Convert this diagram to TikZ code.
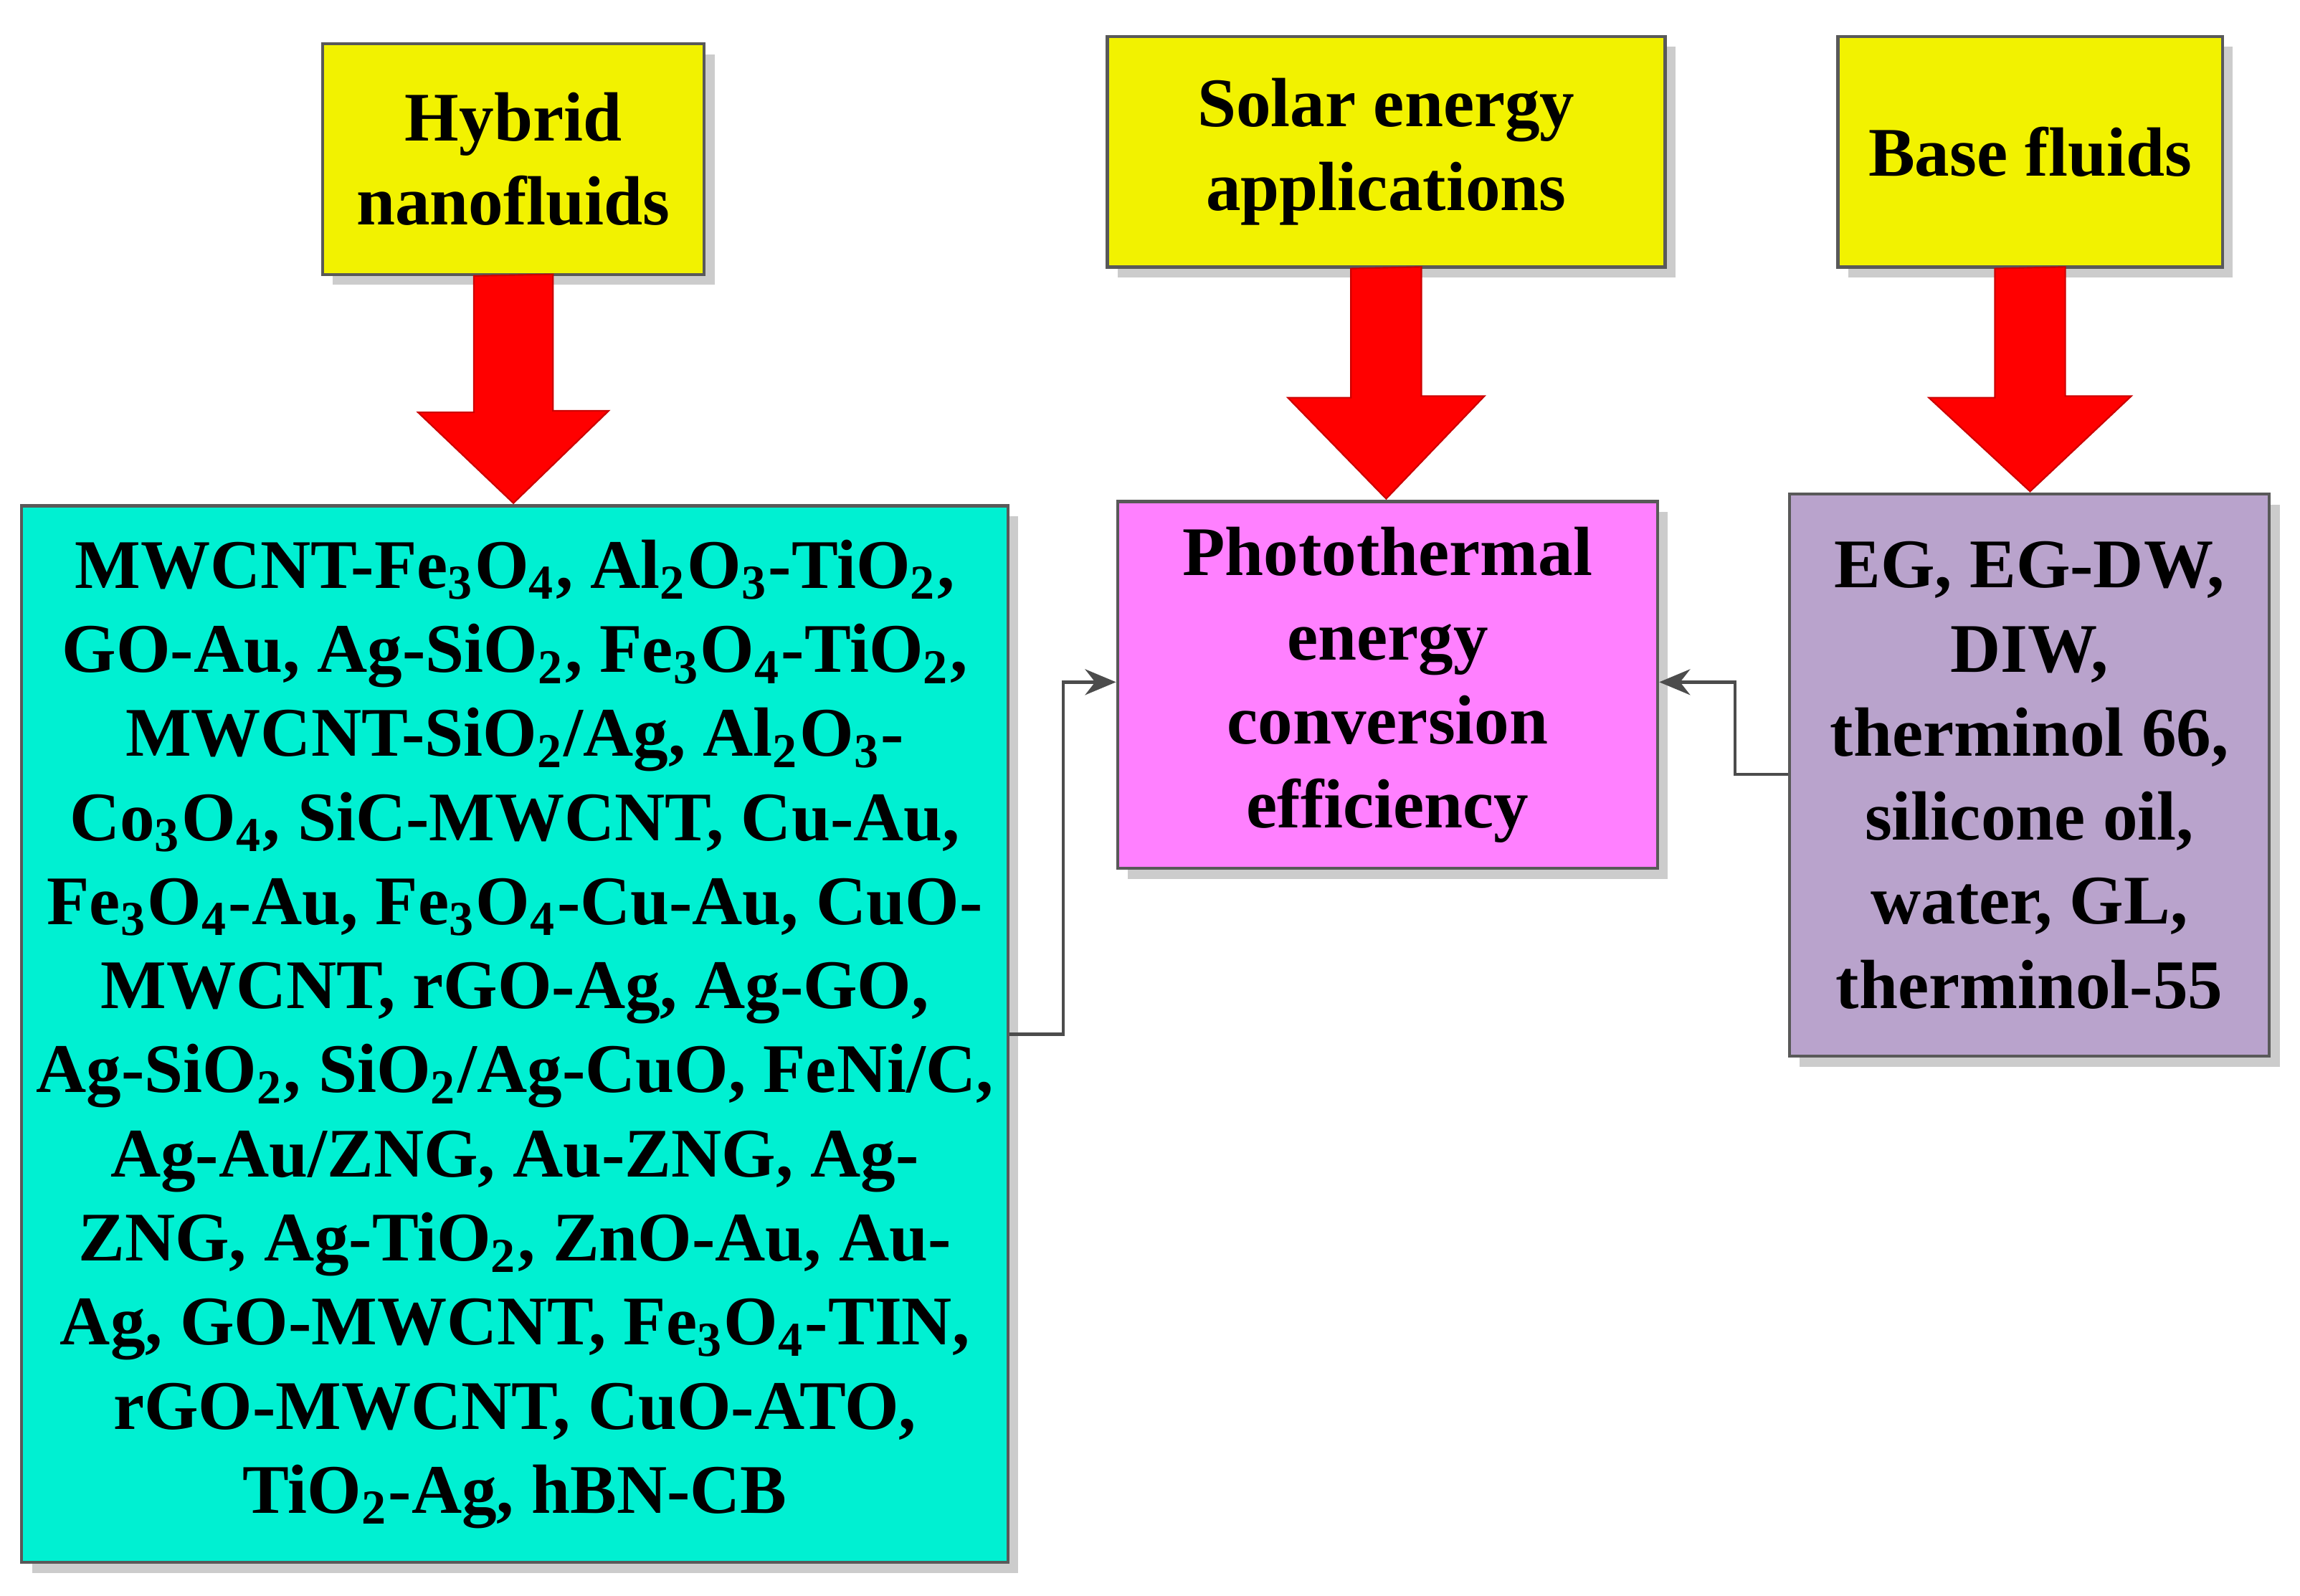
\documentclass[tikz,border=0pt]{standalone}
\usepackage{fontspec}
\setmainfont{Liberation Serif}
\usetikzlibrary{shadows,arrows.meta}
\definecolor{yel}{HTML}{F2F200}
\definecolor{teal2}{HTML}{00F0D2}
\definecolor{pnk}{HTML}{FF80FF}
\definecolor{purp}{HTML}{B9A3CC}
\tikzset{
 box/.style={draw=gray!70!black,line width=0.6pt,drop shadow={shadow xshift=2pt,shadow yshift=-2pt,opacity=0.4},inner sep=0pt,align=center,font=\fontsize{13.5}{16.3}\selectfont\bfseries},
 conn/.style={draw=gray!60!black,line width=0.6pt,-{Stealth[length=6pt,width=5pt]}},
 redarrow/.style={fill=red,draw=red!80!black,line width=0.3pt}
}
\newcommand{\sub}[1]{\textsubscript{#1}}
\begin{document}
\begin{tikzpicture}[x=0.01cm,y=-0.01cm]
\useasboundingbox (0,0) rectangle (1568,1088);
\node[box,fill=yel,minimum width=260\pgflinewidth*0+2.6cm,minimum height=1.57cm] (hy) at (350,108.5) {Hybrid\\nanofluids};
\node[box,fill=yel,minimum width=3.8cm,minimum height=1.57cm] (so) at (945,103.5) {Solar energy\\applications};
\node[box,fill=yel,minimum width=2.62cm,minimum height=1.57cm] (ba) at (1384,103.5) {Base fluids};
\node[box,fill=teal2,minimum width=6.72cm,minimum height=7.2cm] (hl) at (351,705) {MWCNT-Fe\sub{3}O\sub{4}, Al\sub{2}O\sub{3}-TiO\sub{2},\\GO-Au, Ag-SiO\sub{2}, Fe\sub{3}O\sub{4}-TiO\sub{2},\\MWCNT-SiO\sub{2}/Ag, Al\sub{2}O\sub{3}-\\Co\sub{3}O\sub{4}, SiC-MWCNT, Cu-Au,\\Fe\sub{3}O\sub{4}-Au, Fe\sub{3}O\sub{4}-Cu-Au, CuO-\\MWCNT, rGO-Ag, Ag-GO,\\Ag-SiO\sub{2}, SiO\sub{2}/Ag-CuO, FeNi/C,\\Ag-Au/ZNG, Au-ZNG, Ag-\\ZNG, Ag-TiO\sub{2}, ZnO-Au, Au-\\Ag, GO-MWCNT, Fe\sub{3}O\sub{4}-TIN,\\rGO-MWCNT, CuO-ATO,\\TiO\sub{2}-Ag, hBN-CB};
\node[box,fill=pnk,minimum width=3.68cm,minimum height=2.5cm] (ph) at (946,467) {Photothermal\\energy\\conversion\\efficiency};
\node[box,fill=purp,minimum width=3.27cm,minimum height=3.83cm] (bl) at (1383.5,528.5) {EG, EG-DW,\\DIW,\\therminol 66,\\silicone oil,\\water, GL,\\therminol-55};
% red arrows
\draw[redarrow] (hy.south)++(-27,0) -- ++(0,93) -- ++(-38,0) -- (350,343) -- (415,280) -- ++(-38,0) -- ++(0,-93) -- cycle;
\draw[redarrow] (so.south)++(-24,0) -- ++(0,88) -- ++(-43,0) -- (945,340) -- (1012,270) -- ++(-43,0) -- ++(0,-88) -- cycle;
\draw[redarrow] (ba.south)++(-24,0) -- ++(0,88) -- ++(-45,0) -- (1384,335) -- (1453,270) -- ++(-45,0) -- ++(0,-88) -- cycle;
% connectors
\coordinate (c1) at (hl.east |- 0,705);
\coordinate (c2) at (ph.west |- 0,465);
\coordinate (c3) at (bl.west |- 0,528);
\coordinate (c4) at (ph.east |- 0,465);
\draw[conn] (c1) -| (725,465) -- (c2);
\draw[conn] (c3) -| (1183,465) -- (c4);
\end{tikzpicture}
\end{document}
